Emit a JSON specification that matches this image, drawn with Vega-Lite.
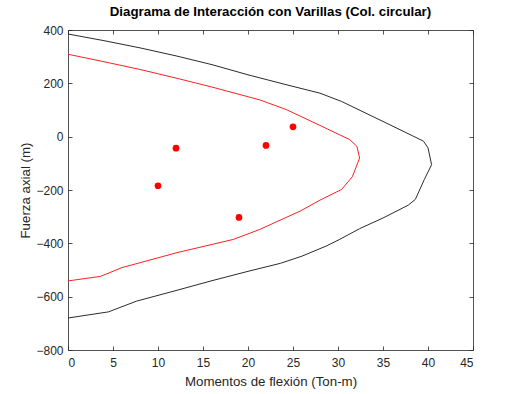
{
  "$schema": "https://vega.github.io/schema/vega-lite/v6.json",
  "width": 405,
  "height": 320,
  "autosize": {"type": "none"},
  "padding": {"left": 68, "top": 30, "right": 52, "bottom": 44},
  "background": "white",
  "title": {
    "text": "Diagrama de Interacción con Varillas (Col. circular)",
    "font": "Liberation Sans",
    "fontSize": 13.3,
    "fontWeight": "bold",
    "color": "#000000",
    "anchor": "middle",
    "offset": 6
  },
  "config": {
    "view": {"stroke": null},
    "axis": {
      "grid": false,
      "domainColor": "#262626",
      "tickColor": "#262626",
      "labelColor": "#262626",
      "titleColor": "#262626",
      "labelFont": "Liberation Sans",
      "titleFont": "Liberation Sans",
      "labelFontSize": 12,
      "titleFontSize": 13.3,
      "titleFontWeight": "normal",
      "tickSize": -4,
      "domainWidth": 0.8,
      "tickWidth": 0.8
    }
  },
  "datasets": {
    "curves": [
      {"s": "nominal", "o": 1, "m": 0, "p": 385},
      {"s": "nominal", "o": 2, "m": 4, "p": 360},
      {"s": "nominal", "o": 3, "m": 8, "p": 333},
      {"s": "nominal", "o": 4, "m": 12, "p": 303},
      {"s": "nominal", "o": 5, "m": 16, "p": 270},
      {"s": "nominal", "o": 6, "m": 20, "p": 232},
      {"s": "nominal", "o": 7, "m": 24, "p": 197},
      {"s": "nominal", "o": 8, "m": 28, "p": 163},
      {"s": "nominal", "o": 9, "m": 30.4, "p": 132},
      {"s": "nominal", "o": 10, "m": 35, "p": 57},
      {"s": "nominal", "o": 11, "m": 38.3, "p": 3},
      {"s": "nominal", "o": 12, "m": 39.5, "p": -17},
      {"s": "nominal", "o": 13, "m": 40.0, "p": -42},
      {"s": "nominal", "o": 14, "m": 40.4, "p": -105},
      {"s": "nominal", "o": 15, "m": 39.6, "p": -160},
      {"s": "nominal", "o": 16, "m": 38.6, "p": -235},
      {"s": "nominal", "o": 17, "m": 37.8, "p": -257},
      {"s": "nominal", "o": 18, "m": 35, "p": -305},
      {"s": "nominal", "o": 19, "m": 32.4, "p": -345},
      {"s": "nominal", "o": 20, "m": 30.2, "p": -385},
      {"s": "nominal", "o": 21, "m": 28.7, "p": -410},
      {"s": "nominal", "o": 22, "m": 26, "p": -448},
      {"s": "nominal", "o": 23, "m": 23.6, "p": -475},
      {"s": "nominal", "o": 24, "m": 20, "p": -505},
      {"s": "nominal", "o": 25, "m": 16, "p": -540},
      {"s": "nominal", "o": 26, "m": 12, "p": -577},
      {"s": "nominal", "o": 27, "m": 7.6, "p": -617},
      {"s": "nominal", "o": 28, "m": 4.5, "p": -657},
      {"s": "nominal", "o": 29, "m": 0, "p": -680},
      {"s": "design", "o": 1, "m": 0, "p": 309},
      {"s": "design", "o": 2, "m": 4, "p": 281},
      {"s": "design", "o": 3, "m": 8, "p": 252},
      {"s": "design", "o": 4, "m": 12.1, "p": 219},
      {"s": "design", "o": 5, "m": 16, "p": 186},
      {"s": "design", "o": 6, "m": 21.3, "p": 138},
      {"s": "design", "o": 7, "m": 24.3, "p": 101},
      {"s": "design", "o": 8, "m": 28, "p": 42},
      {"s": "design", "o": 9, "m": 31.3, "p": -11},
      {"s": "design", "o": 10, "m": 32.1, "p": -36},
      {"s": "design", "o": 11, "m": 32.4, "p": -80},
      {"s": "design", "o": 12, "m": 31.6, "p": -150},
      {"s": "design", "o": 13, "m": 30.4, "p": -198},
      {"s": "design", "o": 14, "m": 28, "p": -238},
      {"s": "design", "o": 15, "m": 25.8, "p": -279},
      {"s": "design", "o": 16, "m": 21.3, "p": -348},
      {"s": "design", "o": 17, "m": 18.4, "p": -385},
      {"s": "design", "o": 18, "m": 15, "p": -412},
      {"s": "design", "o": 19, "m": 12.1, "p": -435},
      {"s": "design", "o": 20, "m": 6, "p": -491},
      {"s": "design", "o": 21, "m": 3.6, "p": -524},
      {"s": "design", "o": 22, "m": 0, "p": -541}
    ],
    "loads": [
      {"m": 12, "p": -43},
      {"m": 22, "p": -33},
      {"m": 25, "p": 37},
      {"m": 10, "p": -184},
      {"m": 19, "p": -303}
    ]
  },
  "layer": [
    {
      "data": {"name": "curves"},
      "mark": {"type": "line", "strokeWidth": 1, "clip": true},
      "encoding": {
        "x": {
          "field": "m", "type": "quantitative",
          "scale": {"domain": [0, 45], "nice": false, "zero": false},
          "axis": {"orient": "bottom", "values": [0, 5, 10, 15, 20, 25, 30, 35, 40, 45], "title": "Momentos de flexión (Ton-m)", "labelPadding": 11, "titlePadding": 6}
        },
        "y": {
          "field": "p", "type": "quantitative",
          "scale": {"domain": [-800, 400], "nice": false, "zero": false},
          "axis": {"orient": "left", "values": [-800, -600, -400, -200, 0, 200, 400], "title": "Fuerza axial (m)", "labelPadding": 9, "titlePadding": 3}
        },
        "order": {"field": "o", "type": "quantitative"},
        "detail": {"field": "s", "type": "nominal"},
        "color": {
          "field": "s", "type": "nominal",
          "scale": {"domain": ["nominal", "design"], "range": ["#2b2b2b", "#ff2020"]},
          "legend": null
        }
      }
    },
    {
      "data": {"name": "loads"},
      "mark": {"type": "point", "filled": true, "opacity": 1, "size": 45, "color": "#ff0000"},
      "encoding": {
        "x": {
          "field": "m", "type": "quantitative",
          "axis": {"orient": "top", "values": [0, 5, 10, 15, 20, 25, 30, 35, 40, 45], "labels": false, "title": null}
        },
        "y": {
          "field": "p", "type": "quantitative",
          "axis": {"orient": "right", "values": [-800, -600, -400, -200, 0, 200, 400], "labels": false, "title": null}
        }
      }
    }
  ]
}
